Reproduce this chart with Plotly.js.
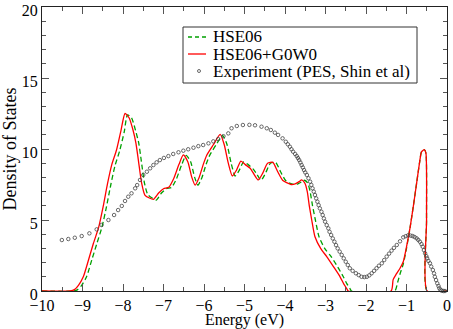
<!DOCTYPE html>
<html><head><meta charset="utf-8">
<script src="https://cdn.plot.ly/plotly-3.0.1.min.js"></script>
<style>html,body{margin:0;padding:0;background:#fff}#c{width:453px;height:329px}</style>
</head><body><div id="c"></div>
<script>
var gwX = [-10,-9.3,-9.2,-9.1,-8.98,-8.85,-8.73,-8.6,-8.49,-8.38,-8.28,-8.16,-8.05,-7.95,-7.85,-7.75,-7.68,-7.62,-7.54,-7.46,-7.35,-7.25,-7.12,-7.0,-6.87,-6.75,-6.62,-6.51,-6.4,-6.3,-6.22,-6.12,-6.02,-5.93,-5.77,-5.6,-5.5,-5.4,-5.3,-5.2,-5.09,-4.98,-4.86,-4.76,-4.66,-4.55,-4.43,-4.3,-4.18,-4.06,-3.96,-3.85,-3.75,-3.65,-3.59,-3.51,-3.45,-3.4,-3.34,-3.26,-3.12,-2.97,-2.8,-2.64,-2.55,-2.48,-2.44,-1.38,-1.33,-1.25,-1.16,-1.08,-1.0,-0.91,-0.83,-0.75,-0.68,-0.63,-0.56,-0.52,-0.505,-0.49,0];
var gwY = [0,0,0.1,0.4,1.0,2.2,3.36,4.5,5.94,7.6,8.87,9.93,11.3,12.5,12.2,11.3,10.4,9.2,7.6,6.76,6.55,6.45,6.9,7.2,7.3,7.9,8.9,9.58,9.1,8.0,7.46,8.0,8.9,9.58,10.3,11.03,10.3,9.0,8.1,8.5,9.15,8.9,8.64,8.2,7.82,8.3,9.0,9.06,8.4,7.8,7.63,7.5,7.54,7.7,7.82,7.6,7.0,6.0,5.0,3.82,3.0,2.42,1.7,1.0,0.5,0.19,0,0,0.8,1.2,1.6,2.06,3.1,4.5,6.0,7.6,9.0,9.8,9.95,9.7,5.0,0,0];
var hseX = [-10,-9.22,-9.12,-9.02,-8.9,-8.77,-8.65,-8.52,-8.41,-8.3,-8.2,-8.08,-7.97,-7.89,-7.79,-7.69,-7.61,-7.55,-7.47,-7.39,-7.28,-7.18,-7.05,-6.93,-6.8,-6.68,-6.55,-6.44,-6.33,-6.23,-6.15,-6.05,-5.95,-5.86,-5.7,-5.54,-5.43,-5.33,-5.23,-5.13,-5.02,-4.91,-4.79,-4.69,-4.59,-4.48,-4.36,-4.23,-4.11,-3.99,-3.89,-3.78,-3.68,-3.58,-3.52,-3.44,-3.38,-3.32,-3.25,-3.16,-3.02,-2.86,-2.7,-2.56,-2.47,-2.4,-2.36,-1.29,-1.22,-1.16,-1.08,-1.0,-0.91,-0.83,-0.75,-0.68,-0.63,-0.56,-0.52,-0.505,-0.49,0];
var hseY = [0,0,0.1,0.4,1.0,2.2,3.3,4.5,5.9,7.5,8.8,9.9,11.2,12.4,12.2,11.3,10.4,9.2,7.6,6.8,6.55,6.4,6.9,7.2,7.3,7.9,8.9,9.55,9.1,8.0,7.45,8.0,8.9,9.55,10.3,10.95,10.3,9.0,8.1,8.5,9.1,8.9,8.6,8.2,7.8,8.3,9.0,9.05,8.4,7.8,7.6,7.5,7.55,7.7,7.8,7.6,7.0,6.0,5.0,3.82,3.0,2.42,1.7,1.0,0.5,0.19,0,0,0.6,1.2,1.9,3.0,4.5,6.0,7.6,9.0,9.8,9.95,9.7,5.0,0,0];
var expX = [-9.51,-9.35,-9.19,-9.02,-8.83,-8.65,-8.53,-8.36,-8.22,-8.12,-8.03,-7.95,-7.87,-7.79,-7.7,-7.65,-7.58,-7.5,-7.41,-7.33,-7.25,-7.17,-7.09,-6.99,-6.88,-6.76,-6.63,-6.51,-6.39,-6.26,-6.14,-6.02,-5.89,-5.77,-5.65,-5.52,-5.4,-5.32,-5.19,-5.04,-4.88,-4.74,-4.58,-4.45,-4.35,-4.25,-4.17,-4.06,-3.98,-3.93,-3.88,-3.84,-3.8,-3.75,-3.71,-3.68,-3.65,-3.62,-3.59,-3.56,-3.53,-3.5,-3.46,-3.42,-3.38,-3.35,-3.32,-3.29,-3.26,-3.23,-3.2,-3.17,-3.14,-3.1,-3.07,-3.04,-3.01,-2.97,-2.93,-2.9,-2.86,-2.82,-2.78,-2.74,-2.7,-2.65,-2.6,-2.55,-2.5,-2.45,-2.4,-2.33,-2.25,-2.18,-2.11,-2.04,-1.98,-1.92,-1.86,-1.8,-1.74,-1.68,-1.61,-1.55,-1.49,-1.43,-1.37,-1.31,-1.24,-1.16,-1.08,-1.02,-0.96,-0.9,-0.85,-0.8,-0.75,-0.71,-0.67,-0.63,-0.6,-0.57,-0.54,-0.51,-0.49,-0.46,-0.42,-0.39,-0.35,-0.32,-0.3,-0.27,-0.24,-0.21,-0.19,-0.16,-0.13,-0.09,-0.05];
var expY = [3.59,3.66,3.75,3.87,4.06,4.34,4.65,5.0,5.35,5.7,5.99,6.34,6.64,6.88,7.23,7.46,7.82,8.17,8.4,8.64,8.87,9.06,9.22,9.37,9.5,9.65,9.77,9.88,9.98,10.09,10.2,10.28,10.4,10.54,10.7,10.9,11.1,11.46,11.62,11.69,11.7,11.67,11.57,11.46,11.34,11.15,10.99,10.75,10.51,10.33,10.16,9.98,9.81,9.65,9.5,9.36,9.22,9.05,8.87,8.7,8.52,8.35,8.17,7.94,7.7,7.47,7.23,7.0,6.76,6.52,6.29,6.05,5.82,5.58,5.35,5.11,4.88,4.64,4.41,4.17,3.94,3.7,3.47,3.23,3.0,2.77,2.54,2.3,2.06,1.83,1.6,1.42,1.25,1.12,1.0,0.98,1.0,1.1,1.25,1.42,1.6,1.78,1.95,2.18,2.42,2.63,2.84,3.04,3.24,3.5,3.78,3.86,3.92,3.9,3.87,3.8,3.71,3.6,3.47,3.3,3.12,2.88,2.65,2.45,2.3,2.12,1.95,1.72,1.48,1.24,1.0,0.77,0.54,0.35,0.19,0.08,0.02,0.0,0.0];
var seriesNames = ['HSE06', 'HSE06+G0W0', 'Experiment (PES, Shin et al)'];

var serif = 'Liberation Serif';
var traces = [
  {x: hseX, y: hseY, name: seriesNames[0], mode: 'lines', line: {color: '#00a000', width: 1.3, dash: '5px,3px', shape: 'spline', smoothing: 0.6}},
  {x: gwX, y: gwY, name: seriesNames[1], mode: 'lines', line: {color: '#ff0000', width: 1.3, shape: 'spline', smoothing: 0.6}},
  {x: expX, y: expY, name: seriesNames[2], mode: 'markers', cliponaxis: false,
   marker: {symbol: 'circle-open', size: 3.5, color: '#444', line: {width: 0.8, color: '#444'}}}
];

var L = 42, R = 447, T = 7, B = 291;
function px(x) { return (x - L) / (R - L); }
function py(y) { return (B - y) / (B - T); }
var shapes = [
  {type: 'rect', xref: 'paper', yref: 'paper', x0: px(183), x1: px(417), y0: py(83), y1: py(27), line: {color: '#333', width: 1}, fillcolor: '#fff', layer: 'above'},
  {type: 'line', xref: 'paper', yref: 'paper', x0: px(188), x1: px(206), y0: py(37), y1: py(37), line: {color: '#00a000', width: 1.3, dash: '4px,3px'}, layer: 'above'},
  {type: 'line', xref: 'paper', yref: 'paper', x0: px(188), x1: px(206), y0: py(54), y1: py(54), line: {color: '#ff0000', width: 1.3}, layer: 'above'},
  {type: 'circle', xref: 'paper', yref: 'paper', x0: px(197.5), x1: px(200.5), y0: py(72.5), y1: py(69.5), line: {color: '#444', width: 0.8}, layer: 'above'}
];
var annotations = [37, 54, 71].map(function (yy, i) {
  return {xref: 'paper', yref: 'paper', x: px(211), y: py(yy), xanchor: 'left', yanchor: 'middle', showarrow: false,
    height: 17, valign: 'middle',
    text: seriesNames[i], font: {family: serif, size: 17, color: '#000'}};
});

var axBase = {showline: true, linecolor: '#222', linewidth: 1, mirror: 'ticks', ticks: 'inside', ticklen: 7, tickcolor: '#555', tickwidth: 1,
  showgrid: false, zeroline: false, ticklabeloverflow: 'allow', tickfont: {family: serif, size: 16, color: '#000'}};
var layout = {
  width: 453, height: 329,
  margin: {l: 42, r: 6, t: 7, b: 38},
  paper_bgcolor: '#fff', plot_bgcolor: '#fff',
  font: {family: serif, size: 16, color: '#000'},
  showlegend: false,
  shapes: shapes, annotations: annotations,
  xaxis: Object.assign({}, axBase, {range: [-10, 0], dtick: 1, tick0: 0, ticklabelstandoff: 0,
    minor: {dtick: 0.5, ticks: 'inside', ticklen: 4, tickcolor: '#555'},
    title: {text: 'Energy (eV)', font: {family: serif, size: 16}, standoff: 1}}),
  yaxis: Object.assign({}, axBase, {range: [0, 20], dtick: 5, ticklabelshift: 3,
    minor: {dtick: 1, ticks: 'inside', ticklen: 4, tickcolor: '#555'},
    title: {text: 'Density of States', font: {family: serif, size: 18}, standoff: 4}})
};
Plotly.newPlot('c', traces, layout, {displayModeBar: false, staticPlot: true});
</script></body></html>
